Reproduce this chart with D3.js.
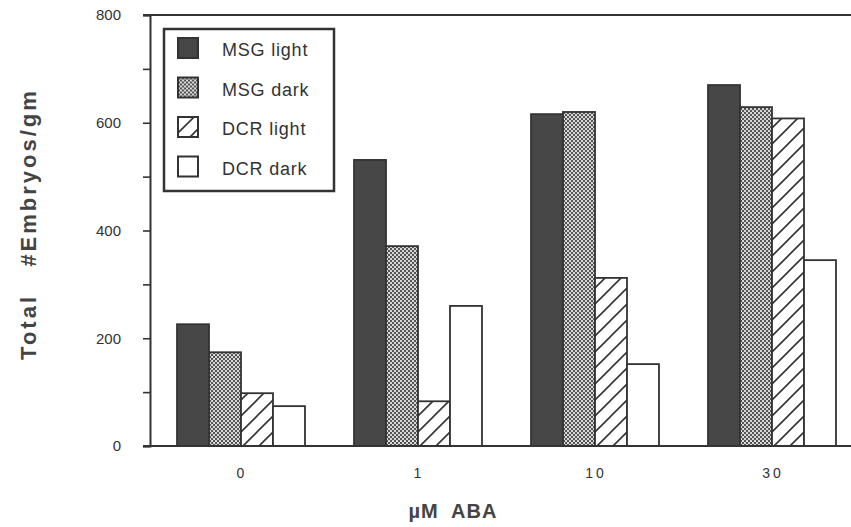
<!DOCTYPE html>
<html>
<head>
<meta charset="utf-8">
<script src="https://cdn.jsdelivr.net/npm/d3@7"></script>
<style>
  body { margin: 0; background: #fff; }
  svg { font-family: "Liberation Sans", Arial, sans-serif; }
</style>
</head>
<body>
<div id="chart"></div>
<script>
// doses (x categories)
var doses = ["0", "1", "10", "30"];
var seriesNames = ["MSG light", "MSG dark", "DCR light", "DCR dark"];
// values, one per dose
var msgLight = [226, 531, 616, 670];
var msgDark = [174, 371, 620, 629];
var dcrLight = [98, 83, 312, 608];
var dcrDark = [74, 260, 152, 345];
var yTicks = [0, 200, 400, 600, 800];

var width = 851, height = 527;
var margin = { top: 15, left: 150, bottom: 81 };

var svg = d3.select("#chart").append("svg")
  .attr("width", width)
  .attr("height", height);

// fills: solid, checker, hatch, empty
var defs = svg.append("defs");
var checker = defs.append("pattern")
  .attr("id", "checker")
  .attr("patternUnits", "userSpaceOnUse")
  .attr("width", 4).attr("height", 4);
checker.append("rect").attr("width", 4).attr("height", 4).attr("fill", "#d8d8d8");
checker.append("rect").attr("width", 2).attr("height", 2).attr("fill", "#555");
checker.append("rect").attr("x", 2).attr("y", 2).attr("width", 2).attr("height", 2).attr("fill", "#555");

var hatch = defs.append("pattern")
  .attr("id", "hatch")
  .attr("patternUnits", "userSpaceOnUse")
  .attr("width", 16).attr("height", 16);
hatch.append("rect").attr("width", 16).attr("height", 16).attr("fill", "#fff");
hatch.append("path")
  .attr("d", "M-2,18 L18,-2 M-6,6 L6,-6 M10,22 L22,10")
  .attr("stroke", "#333").attr("stroke-width", 1.6);

var fills = ["#474747", "url(#checker)", "url(#hatch)", "#fff"];

var y = d3.scaleLinear()
  .domain([0, 800])
  .range([446, margin.top]);

var x0 = d3.scaleBand()
  .domain(doses)
  .range([152.5, 860.5])
  .paddingInner(0.277)
  .paddingOuter(0.1385);

var x1 = d3.scaleBand()
  .domain(seriesNames)
  .range([0, x0.bandwidth()]);

var series = [msgLight, msgDark, dcrLight, dcrDark];
var rows = doses.map(function(d, i) {
  return seriesNames.map(function(s, j) {
    return { dose: d, name: s, value: series[j][i], fill: fills[j] };
  });
});

// bars
var groups = svg.append("g").selectAll("g")
  .data(rows)
  .enter().append("g")
  .attr("transform", function(d, i) { return "translate(" + x0(doses[i]) + ",0)"; });

groups.selectAll("rect")
  .data(function(d) { return d; })
  .enter().append("rect")
  .attr("x", function(d) { return x1(d.name); })
  .attr("y", function(d) { return y(d.value); })
  .attr("width", x1.bandwidth())
  .attr("height", function(d) { return y(0) - y(d.value); })
  .attr("fill", function(d) { return d.fill; })
  .attr("stroke", "#333")
  .attr("stroke-width", 1.8);

// y axis
var yAxis = svg.append("g")
  .attr("transform", "translate(" + margin.left + ",0)")
  .call(d3.axisLeft(y).tickValues(d3.range(0, 801, 100)).tickSize(7)
    .tickFormat(function(d) { return yTicks.indexOf(d) >= 0 ? d : ""; }));
yAxis.select(".domain").attr("stroke", "#333").attr("stroke-width", 2);
yAxis.selectAll(".tick line").attr("stroke", "#333").attr("stroke-width", 1.6);
yAxis.selectAll(".tick text")
  .attr("x", -29)
  .attr("fill", "#333")
  .style("font-size", "15px");

// baseline and top frame
svg.append("line")
  .attr("x1", 143).attr("x2", width)
  .attr("y1", y(0)).attr("y2", y(0))
  .attr("stroke", "#333").attr("stroke-width", 2);
svg.append("line")
  .attr("x1", 143).attr("x2", width)
  .attr("y1", y(800)).attr("y2", y(800))
  .attr("stroke", "#333").attr("stroke-width", 2);

// x labels
svg.append("g").selectAll("text")
  .data(doses)
  .enter().append("text")
  .attr("x", function(d) { return x0(d) + x0.bandwidth() / 2 + 1; })
  .attr("y", 478)
  .attr("text-anchor", "middle")
  .attr("fill", "#333")
  .style("font-size", "14px")
  .style("letter-spacing", "3px")
  .text(function(d) { return d; });

// axis titles
svg.append("text")
  .attr("x", 453).attr("y", 518)
  .attr("text-anchor", "middle")
  .attr("fill", "#444")
  .style("font-size", "20px")
  .style("font-weight", "bold")
  .style("letter-spacing", "1px")
  .attr("xml:space", "preserve")
  .text("\u00b5M  ABA");

svg.append("text")
  .attr("transform", "translate(36,224) rotate(-90)")
  .attr("text-anchor", "middle")
  .attr("fill", "#444")
  .style("font-size", "22px")
  .style("font-weight", "bold")
  .style("letter-spacing", "3px")
  .attr("xml:space", "preserve")
  .text("Total   #Embryos/gm");

// legend
var legend = svg.append("g").attr("transform", "translate(164,29)");
legend.append("rect")
  .attr("width", 170).attr("height", 162)
  .attr("fill", "#fff")
  .attr("stroke", "#333").attr("stroke-width", 2.5);

var item = legend.selectAll(".item")
  .data(seriesNames)
  .enter().append("g")
  .attr("transform", function(d, i) { return "translate(14," + (9 + i * 39.5) + ")"; });
item.append("rect")
  .attr("width", 20).attr("height", 20)
  .attr("fill", function(d, i) { return fills[i]; })
  .attr("stroke", "#333").attr("stroke-width", 2);
item.append("text")
  .attr("x", 44).attr("y", 18)
  .attr("fill", "#333")
  .style("font-size", "18px")
  .style("letter-spacing", "0.8px")
  .text(function(d) { return d; });
</script>
</body>
</html>
